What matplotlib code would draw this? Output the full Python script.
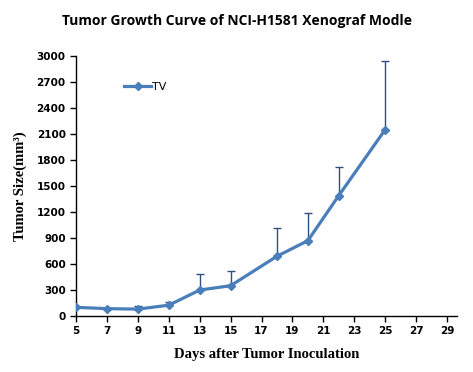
import matplotlib
matplotlib.use("Agg")
import matplotlib.pyplot as plt
import numpy as np

days = [5, 7, 9, 11, 13, 15, 18, 20, 22, 25]
tv = [100, 85, 80, 125, 300, 350, 690, 870, 1390, 2150]
tv_upper = [100, 85, 110, 165, 480, 520, 1020, 1190, 1720, 2950]
xticks = [5, 7, 9, 11, 13, 15, 17, 19, 21, 23, 25, 27, 29]
yticks = [0, 300, 600, 900, 1200, 1500, 1800, 2100, 2400, 2700, 3000]

fig = plt.figure(figsize=(4.73, 3.72), dpi=100)
ax = fig.add_axes([0.161, 0.1505, 0.805, 0.6985])

err_up = np.array(tv_upper) - np.array(tv)
ax.errorbar(days, tv, yerr=[np.zeros(len(tv)), err_up], fmt='none',
            ecolor='#2F4F7F', elinewidth=1.0, capsize=3, capthick=1.0, zorder=2)
ax.plot(days, tv, color='#4A7EBB', lw=2.3, marker='D', ms=4.5,
        markerfacecolor='#4A7EBB', markeredgecolor='#4A7EBB', label='TV', zorder=3)

ax.set_xlim(5, 29.65)
ax.set_ylim(0, 3000)
ax.set_xticks(xticks)
ax.set_yticks(yticks)
for s in ['top', 'right']:
    ax.spines[s].set_visible(False)
for s in ['left', 'bottom']:
    ax.spines[s].set_linewidth(1.0)
    ax.spines[s].set_color('black')
ax.tick_params(axis='both', direction='out', length=4, width=1.0, labelsize=7.5)
for lab in ax.get_xticklabels() + ax.get_yticklabels():
    lab.set_fontweight('bold')
    lab.set_family('DejaVu Sans')

ax.set_xlabel('Days after Tumor Inoculation', family='Liberation Serif',
              fontweight='bold', fontsize=10.5, labelpad=8)
ax.set_ylabel('Tumor Size(mm³)', family='Liberation Serif',
              fontweight='bold', fontsize=10.5, labelpad=7)

fig.text(0.5, 0.943, 'Tumor Growth Curve of NCI-H1581 Xenograf Modle',
         ha='center', va='center', fontsize=10, fontweight='bold', family='Open Sans')

leg = ax.legend(loc='upper left', bbox_to_anchor=(0.1, 0.94), frameon=False,
                fontsize=8, handlelength=2.4, handletextpad=0.1)

fig.savefig('out.png', dpi=100)
